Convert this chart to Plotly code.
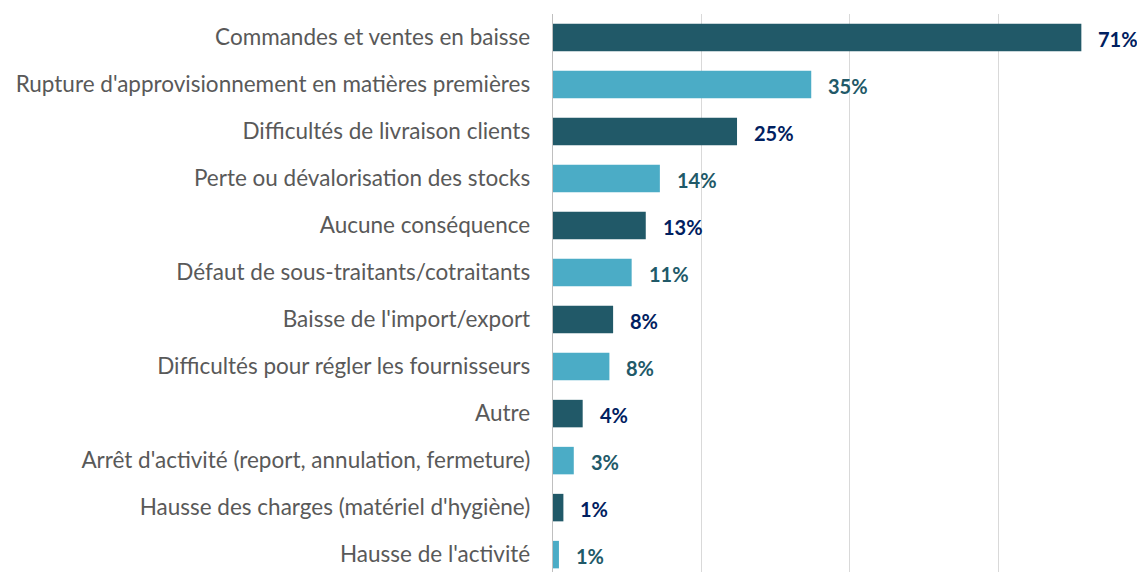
import plotly.graph_objects as go

categories = [
    "Commandes et ventes en baisse",
    "Rupture d'approvisionnement en matières premières",
    "Difficultés de livraison clients",
    "Perte ou dévalorisation des stocks",
    "Aucune conséquence",
    "Défaut de sous-traitants/cotraitants",
    "Baisse de l'import/export",
    "Difficultés pour régler les fournisseurs",
    "Autre",
    "Arrêt d'activité (report, annulation, fermeture)",
    "Hausse des charges (matériel d'hygiène)",
    "Hausse de l'activité",
]
values = [71.2, 34.8, 24.8, 14.4, 12.5, 10.6, 8.1, 7.6, 4.0, 2.8, 1.4, 0.8]
labels = ["71%", "35%", "25%", "14%", "13%", "11%", "8%", "8%", "4%", "3%", "1%", "1%"]

dark_bar = "#215968"
light_bar = "#4BACC6"
dark_lbl = "#002060"
light_lbl = "#215968"

bar_colors = [dark_bar if i % 2 == 0 else light_bar for i in range(len(values))]
lbl_colors = [dark_lbl if i % 2 == 0 else light_lbl for i in range(len(values))]

fig = go.Figure()
fig.add_trace(go.Bar(
    y=categories, x=values, orientation="h",
    marker=dict(color=bar_colors, line=dict(width=0)),
    width=0.585, hoverinfo="skip",
))

for c, v, t, col in zip(categories, values, labels, lbl_colors):
    fig.add_annotation(x=v, y=c, text="<b>%s</b>" % t, showarrow=False,
                       xanchor="left", yanchor="middle", xshift=15, yshift=-1,
                       font=dict(family="Lato", size=20, color=col))

fig.update_layout(
    width=1137, height=572,
    margin=dict(l=553, r=0, t=14, b=0, autoexpand=False),
    paper_bgcolor="white", plot_bgcolor="white",
    showlegend=False,
    font=dict(family="Lato", size=22.5, color="#595959"),
)
fig.update_xaxes(range=[0, 78.7], showgrid=True, gridcolor="#D9D9D9", gridwidth=1.3,
                 dtick=20, showticklabels=False, zeroline=False, showline=False,
                 fixedrange=True)
fig.update_yaxes(categoryorder="array", categoryarray=categories,
                 range=[11.37, -0.5], autorange=False, automargin=False,
                 showline=True, linecolor="#BFBFBF", linewidth=1.3,
                 showgrid=False, ticks="", ticklabelstandoff=17,
                 tickfont=dict(family="Lato", size=22.5, color="#595959"))

fig.write_html(
    "out.html",
    config={"displayModeBar": False, "staticPlot": True},
    post_script="document.body.style.margin='0';document.body.style.overflow='hidden';",
)
